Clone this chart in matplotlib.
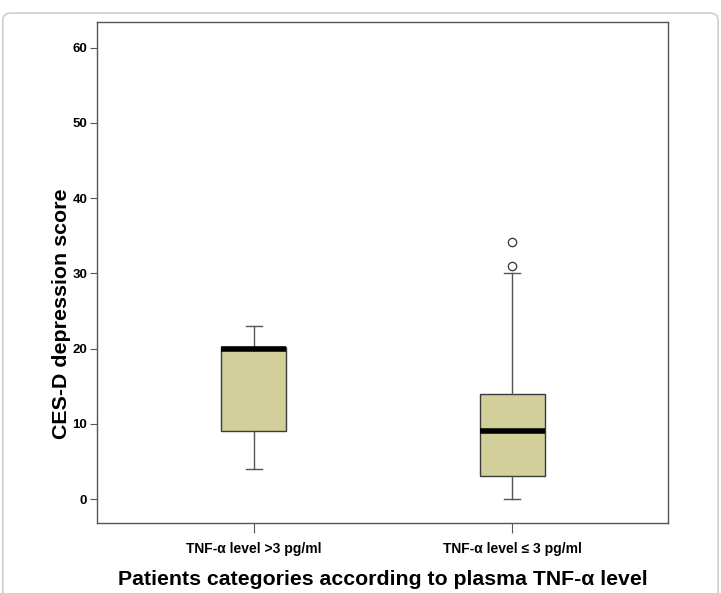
import matplotlib
matplotlib.use("Agg")
import matplotlib.pyplot as plt
from matplotlib.patches import FancyBboxPatch

categories = ["TNF-\u03b1 level >3 pg/ml", "TNF-\u03b1 level \u2264 3 pg/ml"]
medians = [20, 9]
q1s = [9, 3]
q3s = [20.2, 14]
whislo = [4, 0]
whishi = [23, 30]
fliers = [[], [31, 34.2]]
yticks = [0, 10, 20, 30, 40, 50, 60]

plt.rcParams['font.family'] = ['Liberation Sans', 'DejaVu Sans']

fig = plt.figure(figsize=(7.21, 5.93), dpi=100)
frame = FancyBboxPatch((0.004, -0.05), 0.992, 1.028, boxstyle="round,pad=0,rounding_size=0.012",
                       transform=fig.transFigure, facecolor='none', edgecolor='#cfcfcf', linewidth=1.2)
fig.patches.append(frame)

ax = fig.add_axes([0.1345, 0.118, 0.792, 0.845])
stats = []
for i in range(len(categories)):
    stats.append(dict(med=medians[i], q1=q1s[i], q3=q3s[i], whislo=whislo[i], whishi=whishi[i],
                      fliers=fliers[i], label=categories[i]))
ax.bxp(stats, positions=[1, 2], widths=0.252, patch_artist=True,
       boxprops=dict(facecolor='#d3cf9a', edgecolor='#3a3a3a', linewidth=1.0),
       medianprops=dict(color='black', linewidth=4, solid_capstyle='butt'),
       whiskerprops=dict(color='#555555', linewidth=1.0),
       capprops=dict(color='#555555', linewidth=1.0),
       capwidths=0.065,
       flierprops=dict(marker='o', markerfacecolor='none', markeredgecolor='#333333',
                       markersize=6, markeredgewidth=0.9))

ax.set_xlim(0.392, 2.604)
ax.set_ylim(-3.19, 63.43)
ax.set_yticks(yticks)
ax.set_yticklabels([str(v) for v in yticks], fontweight='bold', fontsize=9.5)
ax.set_xticks([1, 2])
ax.set_xticklabels(categories, fontweight='bold', fontsize=10)
ax.tick_params(axis='x', length=7, pad=7, color='#555555')
ax.tick_params(axis='y', length=5, pad=2, color='#555555')
for s in ax.spines.values():
    s.set_color('#555555')
    s.set_linewidth(1.0)
ax.set_ylabel("CES-D depression score", fontsize=15.4, fontweight='bold')
ax.yaxis.set_label_coords(-0.046, 0.417)
ax.set_xlabel("Patients categories according to plasma TNF-\u03b1 level", fontsize=15.3,
              fontweight='bold', labelpad=10)

fig.savefig("out.png", dpi=100)
